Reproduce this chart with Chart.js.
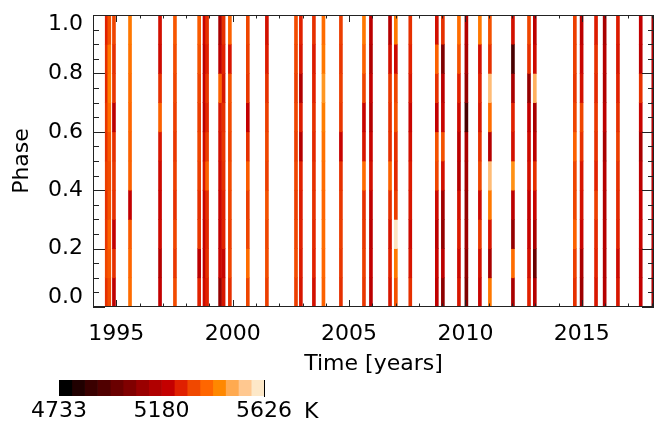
<!DOCTYPE html>
<html>
<head>
<meta charset="utf-8">
<script src="https://cdn.jsdelivr.net/npm/chart.js@4/dist/chart.umd.min.js"></script>
<style>
  body { margin: 0; background: #fff; }
  #wrap { position: relative; width: 664px; height: 421px; }
  #mainChart { position: absolute; left: 0; top: 0; }
  #barChart { position: absolute; left: 0; top: 360px; }
  #unit { position: absolute; left: 304px; top: 400px; font: 22px 'DejaVu Sans', sans-serif; line-height: 22px; color: #000; }
</style>
</head>
<body>
<div id="wrap">
  <canvas id="mainChart" width="664" height="421"></canvas>
  <canvas id="barChart" width="340" height="61"></canvas>
  <span id="unit">K</span>
</div>
<script>
// Observation epochs (years) - one vertical stripe each
const OBS_TIME = [
  1994.59, 1994.70, 1994.90, 1995.59, 1996.88, 1997.52, 1998.56, 1998.79, 1998.90, 1999.46,
  1999.61, 1999.88, 2000.65, 2001.47, 2002.72, 2002.93, 2003.49, 2003.90, 2004.65, 2005.64,
  2005.94, 2006.76, 2007.01, 2007.63, 2008.77, 2009.03, 2009.72, 2010.04, 2010.62, 2011.05,
  2012.04, 2012.73, 2012.98, 2014.70, 2014.99, 2015.61, 2015.98, 2016.55, 2017.53, 2018.07
];

// Phase bins, listed from the top (0.9-1.0) down to the bottom (0.0-0.1)
const PHASE_LO = [0.9, 0.8, 0.7, 0.6, 0.5, 0.4, 0.3, 0.2, 0.1, 0.0];
const PHASE_STEP = 0.1;

// Temperature (K) per stripe, same order as PHASE_LO
const TEMPERATURE = [
  [5265,5285,5275,5295,5285,5305,5285,5295,5315,5285],
  [5335,5405,5415,5385,5345,5325,5335,5365,5345,5325],
  [5315,5285,5295,5185,5285,5295,5285,5205,5285,5195],
  [5405,5395,5385,5375,5365,5365,5205,5355,5375,5385],
  [5235,5225,5285,5365,5245,5225,5215,5225,5165,5205],
  [5345,5325,5315,5305,5295,5305,5285,5315,5295,5325],
  [5355,5335,5315,5305,5315,5305,5285,5295,5185,5265],
  [5215,5185,5205,5185,5225,5245,5215,5205,5195,5225],
  [5285,5265,5295,5275,5305,5365,5285,5275,5285,5265],
  [5135,5185,5365,5245,5235,5225,5215,5205,5215,5085],
  [5285,5265,5245,5285,5295,5285,5265,5265,5215,5245],
  [5365,5245,5335,5325,5315,5325,5315,5305,5315,5285],
  [5315,5305,5295,5205,5285,5355,5305,5315,5385,5315],
  [5235,5255,5285,5305,5315,5305,5335,5315,5325,5305],
  [5325,5315,5305,5315,5305,5315,5305,5315,5325,5305],
  [5265,5245,5155,5255,5165,5265,5255,5265,5255,5245],
  [5285,5255,5265,5285,5275,5285,5285,5275,5265,5235],
  [5385,5405,5455,5415,5395,5385,5375,5385,5375,5365],
  [5305,5295,5305,5295,5215,5285,5295,5305,5295,5285],
  [5405,5365,5315,5215,5245,5385,5285,5295,5305,5295],
  [5185,5155,5205,5165,5215,5235,5195,5185,5205,5185],
  [5165,5235,5295,5285,5285,5365,5285,5245,5265,5245],
  [5405,5225,5315,5335,5285,5275,5305,5590,5405,5335],
  [5285,5265,5245,5215,5235,5255,5245,5225,5245,5285],
  [5235,5365,5285,5205,5335,5315,5225,5185,5215,5195],
  [5285,5040,5185,5215,5335,5235,5115,5085,5185,5070],
  [5385,5335,5265,5225,5185,5165,5235,5255,5225,5245],
  [5165,5135,5085,4910,5135,5115,5085,5105,5070,5040],
  [5405,5235,5265,5245,5285,5315,5225,5295,5235,5215],
  [5335,5285,5520,5385,5165,5520,5405,5245,5135,5405],
  [5235,4910,5135,5265,5235,5445,5185,5085,5385,5135],
  [5315,5285,5085,5205,5225,5235,5205,5215,5235,5265],
  [5185,5225,5500,5135,5185,5285,5215,5135,4990,5165],
  [5305,5305,5295,5315,5365,5315,5315,5365,5305,5285],
  [5185,5215,5235,5315,5285,5245,5235,5215,5135,5105],
  [5255,5285,5275,5295,5285,5265,5305,5275,5265,5245],
  [5135,5165,5155,5185,5135,5165,5155,5165,5155,5165],
  [5255,5245,5265,5285,5305,5285,5275,5265,5225,5245],
  [5205,5185,5285,5215,5135,5185,5205,5215,5185,5205],
  [5135,5165,5145,5155,5145,5155,5165,5155,5145,5135]
];

// Axis ticks
const YEAR_TICKS = [];
for (let yr = 1994; yr <= 2018; yr++) YEAR_TICKS.push(yr);
const PHASE_TICKS = [];
for (let i = 0; i <= 20; i++) PHASE_TICKS.push(i / 20);

// Colour bar: 16 levels from 4733 K to 5626 K
const CB_MIN = 4733;
const CB_MAX = 5626;
const CB_TICKS = [4733, 5180, 5626];
const CB_COLORS = [
  '#000000', '#200000', '#3a0000', '#500000', '#6a0000', '#800000', '#9a0000', '#b00000',
  '#c40000', '#e02000', '#f04800', '#ff6600', '#ff8800', '#ffaa50', '#ffc890', '#fde8c8'
];

const FONT = { family: "'DejaVu Sans', sans-serif", size: 22 };

function hexToRgb(h) {
  return [parseInt(h.slice(1, 3), 16), parseInt(h.slice(3, 5), 16), parseInt(h.slice(5, 7), 16)];
}

// temperature -> colour, interpolated between the colour bar levels
function tempColor(t) {
  const step = (CB_MAX - CB_MIN) / CB_COLORS.length;
  let f = (t - CB_MIN) / step - 0.5;
  f = Math.max(0, Math.min(CB_COLORS.length - 1, f));
  const i = Math.min(CB_COLORS.length - 2, Math.floor(f));
  const w = f - i;
  const a = hexToRgb(CB_COLORS[i]);
  const b = hexToRgb(CB_COLORS[i + 1]);
  const c = a.map((v, k) => Math.round(v + (b[k] - v) * w));
  return `rgb(${c[0]},${c[1]},${c[2]})`;
}

function isMajorPhase(v) {
  return Math.abs(v * 5 - Math.round(v * 5)) < 1e-6;
}

// box round the plot plus inward ticks on all four sides
const axisFrame = {
  id: 'axisFrame',
  afterDatasetsDraw(chart) {
    const { ctx, chartArea: a, scales: { x, y } } = chart;
    ctx.save();
    ctx.strokeStyle = '#222';
    ctx.lineWidth = 1;
    ctx.beginPath();
    x.ticks.forEach(t => {
      const px = Math.round(x.getPixelForValue(t.value)) + 0.5;
      const len = t.value % 5 === 0 ? 7 : 3.5;
      ctx.moveTo(px, a.bottom); ctx.lineTo(px, a.bottom - len);
      ctx.moveTo(px, a.top); ctx.lineTo(px, a.top + len);
    });
    y.ticks.forEach(t => {
      const py = Math.round(y.getPixelForValue(t.value)) + 0.5;
      const len = isMajorPhase(t.value) ? 12 : 6;
      ctx.moveTo(a.left, py); ctx.lineTo(a.left + len, py);
      ctx.moveTo(a.right, py); ctx.lineTo(a.right - len, py);
    });
    ctx.stroke();
    ctx.strokeRect(a.left + 0.5, a.top + 0.5, a.right - a.left - 1, a.bottom - a.top - 1);
    ctx.restore();
  }
};

// drop the extra room Chart.js keeps for the end labels
function noEndPadding(s) {
  s.paddingTop = 0;
  s.paddingBottom = 0;
  s.paddingLeft = 0;
  s.paddingRight = 0;
}

function renderMain() {
  const datasets = PHASE_LO.map((lo, j) => ({
    data: OBS_TIME.map(t => ({ x: t, y: [lo, lo + PHASE_STEP] })),
    backgroundColor: OBS_TIME.map((t, i) => tempColor(TEMPERATURE[i][j])),
    borderWidth: 0,
    barThickness: 3,
    grouped: false
  }));

  new Chart(document.getElementById('mainChart'), {
    type: 'bar',
    data: { datasets },
    options: {
      responsive: false,
      animation: false,
      layout: { padding: { left: 0, right: 10, top: 15, bottom: 44 } },
      plugins: { legend: { display: false }, tooltip: { enabled: false } },
      scales: {
        x: {
          type: 'linear',
          min: 1994,
          max: 2018.1,
          offset: false,
          grid: { display: false, drawTicks: false },
          border: { display: false },
          afterBuildTicks: s => { s.ticks = YEAR_TICKS.map(v => ({ value: v })); },
          afterFit: s => { s.height = 70; noEndPadding(s); },
          ticks: {
            autoSkip: false, maxRotation: 0, padding: 14, color: '#000', font: FONT,
            callback: v => (v % 5 === 0 ? String(v) : '')
          },
          title: { display: true, text: 'Time [years]', color: '#000', font: FONT, padding: 0 }
        },
        y: {
          min: 0,
          max: 1,
          grid: { display: false, drawTicks: false },
          border: { display: false },
          afterBuildTicks: s => { s.ticks = PHASE_TICKS.map(v => ({ value: v })); },
          afterFit: s => { s.width = 93; noEndPadding(s); },
          ticks: {
            autoSkip: false, padding: 10, color: '#000',
            font: { ...FONT, lineHeight: '19px' },
            callback: v => {
              if (!isMajorPhase(v)) return '';
              if (v >= 1) return ['', '1.0'];
              if (v <= 0) return ['0.0', ''];
              return v.toFixed(1);
            }
          },
          title: { display: true, text: 'Phase', color: '#000', font: FONT, padding: { top: 9, bottom: 0 } }
        }
      }
    },
    plugins: [axisFrame]
  });
}

function renderColorBar() {
  const step = (CB_MAX - CB_MIN) / CB_COLORS.length;
  const datasets = CB_COLORS.map((c, i) => ({
    data: [[CB_MIN + i * step, CB_MIN + (i + 1) * step]],
    backgroundColor: c,
    borderWidth: 0,
    barPercentage: 1,
    categoryPercentage: 1,
    grouped: false
  }));

  new Chart(document.getElementById('barChart'), {
    type: 'bar',
    data: { labels: [''], datasets },
    options: {
      indexAxis: 'y',
      responsive: false,
      animation: false,
      layout: { padding: { left: 59, right: 76, top: 20, bottom: 0 } },
      plugins: { legend: { display: false }, tooltip: { enabled: false } },
      scales: {
        x: {
          type: 'linear',
          min: CB_MIN,
          max: CB_MAX,
          grid: { display: false, drawTicks: false },
          border: { display: false },
          afterBuildTicks: s => { s.ticks = CB_TICKS.map(v => ({ value: v })); },
          afterFit: s => { s.height = 25; noEndPadding(s); },
          ticks: { autoSkip: false, maxRotation: 0, padding: 2, color: '#000', font: FONT, callback: v => String(v) }
        },
        y: {
          position: 'right',
          grid: { display: false, drawTicks: false },
          ticks: { display: false },
          border: { display: true, color: '#000', width: 1 },
          afterFit: s => { s.width = 0; }
        }
      }
    }
  });
}

renderMain();
renderColorBar();
</script>
</body>
</html>
